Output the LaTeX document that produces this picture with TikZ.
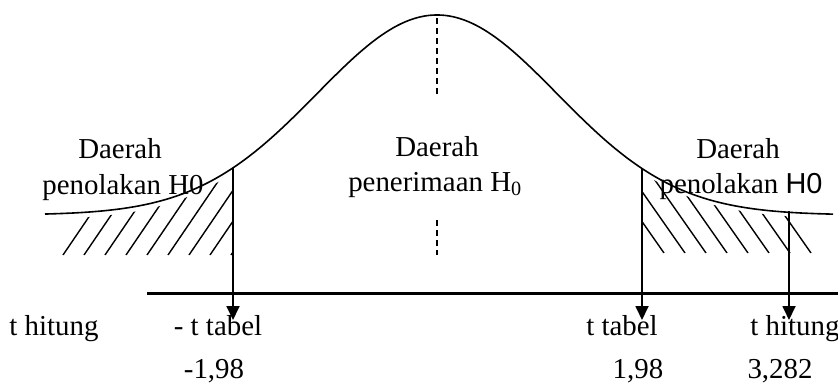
\documentclass[tikz,border=0pt]{standalone}
\usepackage{fontspec}
\setmainfont{Liberation Serif}
\newfontfamily\hsans{Liberation Sans}
\usetikzlibrary{positioning, arrows.meta, calc}

\begin{document}
\begin{tikzpicture}[
  x=1bp, y=1bp,
  lbl/.style={anchor=base, inner sep=0pt, font=\fontsize{29}{35}\selectfont},
  curve/.style={line width=1.6bp},
  arr/.style={-{Triangle[length=14bp, width=13bp]}, line width=1.8bp},
  axisline/.style={line width=3bp},
  hatch/.style={line width=1.4bp},
  mid/.style={dashed, dash pattern=on 6bp off 4bp, line width=1.4bp}
]
\useasboundingbox (0,0) rectangle (838,387);

% ---- Normal curve ----
\draw[curve] plot[domain=45:833, samples=200, smooth]
  (\x, {172 + 200*exp(-0.5*((\x-437)/120)^2)});

% ---- Points on the curve and below the axis ----
\coordinate (peak) at (437,369);
\coordinate (dtop) at (437,290);
\coordinate (dlow) at (437,167);
\coordinate (dbot) at (437,132);
\coordinate (ltop) at (233,219);
\coordinate (ltip) at (233,67);
\coordinate (rtop) at (642,219);
\coordinate (rtip) at (642,67);
\coordinate (htop) at (789,176);
\coordinate (htip) at (789,67);
\coordinate (axs) at (147,94);
\coordinate (axe) at (838,94);

% ---- Hatching, left tail ----
\begin{scope}
  \clip plot[domain=55:233, samples=60, smooth]
    (\x, {167 + 200*exp(-0.5*((\x-437)/120)^2)}) -- (233,132) -- (55,132) -- cycle;
  \foreach \bx in {63,84,...,231}
    \draw[hatch] (\bx,132) -- ++(68,100);
\end{scope}

% ---- Hatching, right tail ----
\begin{scope}
  \clip plot[domain=642:818, samples=60, smooth]
    (\x, {168 + 200*exp(-0.5*((\x-437)/120)^2)}) -- (818,134) -- (642,134) -- cycle;
  \foreach \bx in {664,685,...,811}
    \draw[hatch] (\bx,134) -- ++(-70,100);
\end{scope}

% ---- Dashed centre line ----
\draw[mid] (peak) -- (dtop);
\draw[mid] (dlow) -- (dbot);

% ---- Axis and arrows ----
\draw[axisline] (axs) -- (axe);
\draw[arr] (ltop) -- (ltip);
\draw[arr] (rtop) -- (rtip);
\draw[arr] (htop) -- (htip);

% ---- Region labels ----
\node[lbl] (ldae) at (120,229) {Daerah};
\node[lbl] (lpen) at (123,193) {penolakan H0};
\node[lbl] (cdae) at (437,231) {Daerah};
\node[lbl] (cpen) at (435,196) {penerimaan H\textsubscript{0}};
\node[lbl] (rdae) at (738,229) {Daerah};
\node[lbl] (rpen) at (741,194) {penolakan {\hsans H0}};

% ---- Values on the axis ----
\node[lbl] (thit1) at (54,52) {t hitung};
\node[lbl] (ttabl) at (218,52) {- t tabel};
\node[lbl] (ttabr) at (622,52) {t tabel};
\node[lbl] (thit2) at (795,52) {t hitung};
\node[lbl] (vl) at (214,9) {-1,98};
\node[lbl] (vr) at (638,9) {1,98};
\node[lbl] (vh) at (780,9) {3,282};

\end{tikzpicture}
\end{document}
